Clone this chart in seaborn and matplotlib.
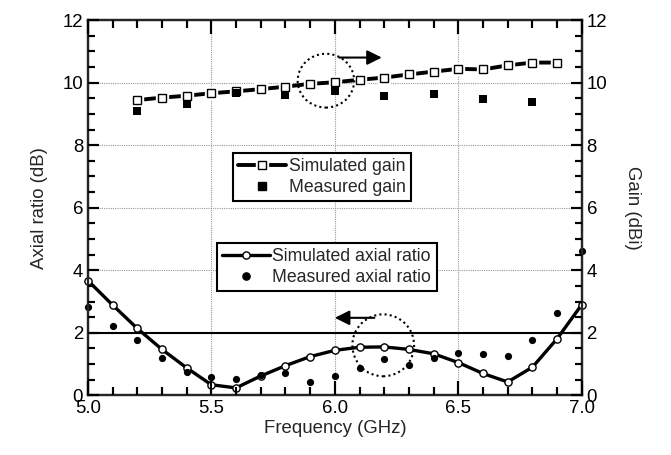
import numpy as np
import pandas as pd
import matplotlib
matplotlib.use("Agg")
import matplotlib.pyplot as plt
from matplotlib.patches import Ellipse
from matplotlib.lines import Line2D
from matplotlib.legend_handler import HandlerTuple
from matplotlib.ticker import MultipleLocator
import seaborn as sns

# Frequency sweep (GHz)
freq_ar = [5.0, 5.1, 5.2, 5.3, 5.4, 5.5, 5.6, 5.7, 5.8, 5.9, 6.0,
           6.1, 6.2, 6.3, 6.4, 6.5, 6.6, 6.7, 6.8, 6.9, 7.0]
ar_sim = [3.67, 2.89, 2.14, 1.47, 0.88, 0.34, 0.24, 0.62, 0.95, 1.24, 1.44,
          1.54, 1.55, 1.47, 1.33, 1.05, 0.70, 0.43, 0.90, 1.81, 2.90]
ar_meas = [2.84, 2.23, 1.78, 1.18, 0.75, 0.59, 0.54, 0.64, 0.73, 0.43, 0.61,
           0.86, 1.15, 0.96, 1.21, 1.37, 1.31, 1.26, 1.77, 2.62, 4.63]

freq_gain_sim = [5.2, 5.3, 5.4, 5.5, 5.6, 5.7, 5.8, 5.9, 6.0,
                 6.1, 6.2, 6.3, 6.4, 6.5, 6.6, 6.7, 6.8, 6.9]
gain_sim = [9.44, 9.52, 9.58, 9.66, 9.72, 9.79, 9.87, 9.96, 10.01,
            10.09, 10.16, 10.26, 10.35, 10.44, 10.42, 10.55, 10.64, 10.64]
freq_gain_meas = [5.2, 5.4, 5.6, 5.8, 6.0, 6.2, 6.4, 6.6, 6.8]
gain_meas = [9.08, 9.32, 9.67, 9.61, 9.74, 9.58, 9.64, 9.47, 9.37]

x_ticks = [5.0, 5.5, 6.0, 6.5, 7.0]
y_ticks = [0, 2, 4, 6, 8, 10, 12]

sns.set_style("white")
plt.rcParams.update({
    "font.family": ["Liberation Sans", "DejaVu Sans"],
    "font.size": 13.4,
    "xtick.bottom": True, "xtick.top": True,
    "ytick.left": True,
    "xtick.direction": "in", "ytick.direction": "in",
    "xtick.major.size": 10, "xtick.minor.size": 6,
    "ytick.major.size": 8, "ytick.minor.size": 5,
    "xtick.major.width": 1.5, "xtick.minor.width": 1.5,
    "ytick.major.width": 1.5, "ytick.minor.width": 1.5,
    "xtick.color": "black", "ytick.color": "black",
})

df_ar = pd.DataFrame({"f": freq_ar, "sim": ar_sim, "meas": ar_meas})
df_gs = pd.DataFrame({"f": freq_gain_sim, "gain": gain_sim})
df_gm = pd.DataFrame({"f": freq_gain_meas, "gain": gain_meas})

AX_RECT = [0.131, 0.131, 0.736, 0.825]
fig = plt.figure(figsize=(6.71, 4.55), dpi=100)
ax = fig.add_axes(AX_RECT)
ax2 = ax.twinx()

MS = 5.2

# Axial ratio (left axis)
sns.lineplot(data=df_ar, x="f", y="sim", ax=ax, color="black", lw=2.4,
             marker="o", markersize=MS, markerfacecolor="white",
             markeredgecolor="black", markeredgewidth=1.0, zorder=4,
             clip_on=False)
sns.scatterplot(data=df_ar, x="f", y="meas", ax=ax, color="black",
                marker="o", s=MS**2, edgecolor="black", linewidth=0, zorder=5,
                clip_on=False)

# Gain (right axis): gaps around the symbols
sns.lineplot(data=df_gs, x="f", y="gain", ax=ax2, color="black", lw=2.8,
             zorder=3)
ax2.plot(df_gs["f"], df_gs["gain"], ls="none", marker="s", markersize=8.5,
         markerfacecolor="white", markeredgecolor="white", zorder=4)
ax2.plot(df_gs["f"], df_gs["gain"], ls="none", marker="s", markersize=MS,
         markerfacecolor="white", markeredgecolor="black",
         markeredgewidth=1.0, zorder=5)
sns.scatterplot(data=df_gm, x="f", y="gain", ax=ax2, color="black",
                marker="s", s=MS**2, edgecolor="black", linewidth=0, zorder=6)

# 2 dB reference line
ax.axhline(2, color="black", lw=1.5, zorder=3)

for a in (ax, ax2):
    a.set_xlim(5.0, 7.0)
    a.set_ylim(0, 12)
    a.set_yticks(y_ticks)
    a.yaxis.set_minor_locator(MultipleLocator(0.5))
    a.set_facecolor("none")

ax.set_xticks(x_ticks)
ax.set_xticklabels([f"{v:.1f}" for v in x_ticks])
ax.xaxis.set_minor_locator(MultipleLocator(0.1))

ax.set_xlabel("Frequency (GHz)", fontsize=13.4, labelpad=2)
ax.set_ylabel("Axial ratio (dB)", fontsize=13.4, labelpad=10)
ax2.set_ylabel("Gain (dBi)", fontsize=13.4, rotation=270, labelpad=24)

ax.grid(True, which="major", color="#999999", ls=(0, (1, 1)), lw=0.8,
        zorder=0)

for a in (ax, ax2):
    for s in a.spines.values():
        s.set_linewidth(1.6)

# Dotted circles with arrows pointing to the relevant axis
ax2.add_patch(Ellipse((5.964, 10.06), 0.229, 1.72, fill=False, ls=(0, (1, 1.5)),
                      lw=1.5, edgecolor="black", zorder=7))
ax2.annotate("", xy=(6.19, 10.8), xytext=(6.018, 10.8),
             arrowprops=dict(arrowstyle="-|>", lw=1.5, color="black",
                             mutation_scale=22, shrinkA=0, shrinkB=0))
ax.add_patch(Ellipse((6.196, 1.6), 0.25, 1.98, fill=False, ls=(0, (1, 1.5)),
                     lw=1.5, edgecolor="black", zorder=7))
ax.annotate("", xy=(6.0, 2.48), xytext=(6.16, 2.48),
            arrowprops=dict(arrowstyle="-|>", lw=1.5, color="black",
                            mutation_scale=22, shrinkA=0, shrinkB=0))

# Legends
h_gain_line = Line2D([], [], color="black", lw=2.8)
h_gain_gap = Line2D([], [], ls="none", marker="s", markersize=8.5,
                    markerfacecolor="white", markeredgecolor="white")
h_gain_mk = Line2D([], [], ls="none", marker="s", markersize=MS,
                   markerfacecolor="white", markeredgecolor="black",
                   markeredgewidth=1.0)
h_gain_meas = Line2D([], [], ls="none", marker="s", markersize=MS,
                     color="black")
leg1 = ax2.legend([(h_gain_line, h_gain_gap, h_gain_mk), h_gain_meas],
                  ["Simulated gain", "Measured gain"],
                  handler_map={tuple: HandlerTuple(ndivide=1)},
                  loc="upper left", bbox_to_anchor=(0.294, 0.646),
                  fontsize=12.7, frameon=True, fancybox=False,
                  edgecolor="black", framealpha=1, handlelength=2.7,
                  borderpad=0.3, labelspacing=0.2, handletextpad=0.15,
                  borderaxespad=0)
leg1.get_frame().set_linewidth(1.5)

h_ar_sim = Line2D([], [], color="black", lw=2.4, marker="o", markersize=MS,
                  markerfacecolor="white", markeredgecolor="black",
                  markeredgewidth=1.0)
h_ar_meas = Line2D([], [], ls="none", marker="o", markersize=MS, color="black")
leg2 = ax2.legend([h_ar_sim, h_ar_meas],
                  ["Simulated axial ratio", "Measured axial ratio"],
                  loc="upper left", bbox_to_anchor=(0.261, 0.406),
                  fontsize=12.7, frameon=True, fancybox=False,
                  edgecolor="black", framealpha=1, handlelength=2.7,
                  borderpad=0.3, labelspacing=0.2, handletextpad=0.15,
                  borderaxespad=0)
leg2.get_frame().set_linewidth(1.5)
ax2.add_artist(leg1)

# Frame axes on top carrying the inward tick marks on all four sides
frame = fig.add_axes(AX_RECT, zorder=10)
frame.patch.set_visible(False)
frame.set_xlim(5.0, 7.0)
frame.set_ylim(0, 12)
frame.set_xticks(x_ticks)
frame.set_yticks(y_ticks)
frame.xaxis.set_minor_locator(MultipleLocator(0.1))
frame.yaxis.set_minor_locator(MultipleLocator(0.5))
for s in frame.spines.values():
    s.set_visible(False)
frame.tick_params(axis="x", which="major", bottom=True, top=True,
                  direction="in", length=10, width=1.5, color="black",
                  labelbottom=False, labeltop=False)
frame.tick_params(axis="x", which="minor", bottom=True, top=True,
                  direction="in", length=6, width=1.5, color="black")
frame.tick_params(axis="y", which="major", left=True, right=True,
                  direction="in", length=8, width=1.5, color="black",
                  labelleft=False, labelright=False)
frame.tick_params(axis="y", which="minor", left=True, right=True,
                  direction="in", length=5, width=1.5, color="black")

fig.savefig("out.png", dpi=100)
